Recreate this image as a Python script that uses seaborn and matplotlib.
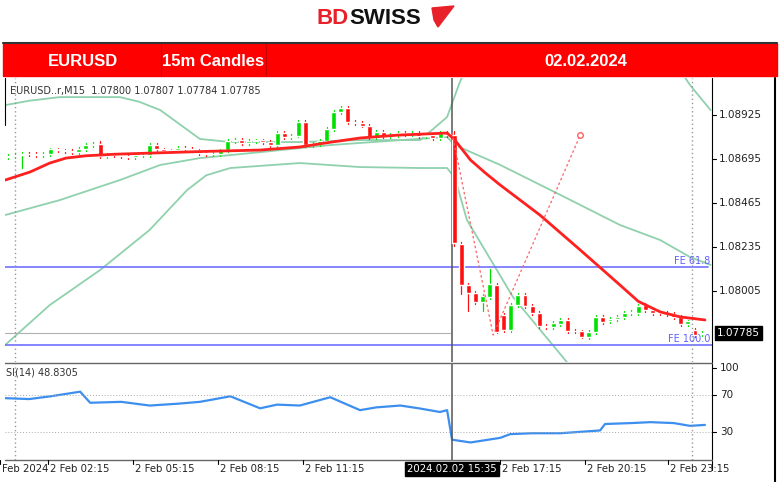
import matplotlib
matplotlib.use("Agg")
import matplotlib.pyplot as plt
import seaborn as sns
import pandas as pd
import numpy as np
from matplotlib.patches import Rectangle, Polygon

sns.set_style("white")
plt.rcParams['font.family'] = ['DejaVu Sans']

# ---- data ----
closes_pre = [1.08712,1.08715,1.08722,1.08720,1.08718,1.08722,1.08745,1.08740,1.08735,1.08732,1.08748,1.08770,1.08775,
              1.08712,1.08718,1.08715,1.08712,1.08705,1.08715,1.08718,
              1.08770,1.08745,1.08735,1.08740,1.08755,1.08748,1.08740,1.08725,1.08720,1.08722,1.08740,
              1.08790,1.08795,1.08780,1.08790,1.08792,1.08785,1.08770,1.08830,1.08812,1.08818,
              1.08890,1.08770,1.08772,1.08790,1.08850,1.08940,1.08960,1.08890,1.08885,1.08870,1.08810,
              1.08835,1.08815,1.08820,1.08830,1.08825,1.08830,1.08815,1.08820,1.08805,1.08830,1.08820]
first_open = 1.08705
opens_post = [1.08820,1.08250,1.08036,1.07994,1.07947,1.07975,1.08035,1.07880,1.07800,1.07930,1.07985,1.07925,
              1.07890,1.07820,1.07818,1.07830,1.07855,1.07795,1.07793,1.07765,1.07790,1.07870,1.07845,1.07860,
              1.07870,1.07890,1.07890,1.07930,1.07905,1.07890,1.07888,1.07885,1.07870,1.07830,1.07800,1.07780]
closes_post = [1.08256,1.08036,1.07994,1.07947,1.07980,1.08040,1.07790,1.07800,1.07930,1.07985,1.07925,1.07890,
               1.07820,1.07818,1.07835,1.07855,1.07795,1.07793,1.07765,1.07790,1.07870,1.07840,1.07860,1.07870,
               1.07890,1.07893,1.07925,1.07905,1.07890,1.07888,1.07885,1.07870,1.07830,1.07845,1.07775,1.07785]
wick_overrides = {2: (None, 1.08650), 13: (1.08790, None), 47: (1.08975, None), 63: (1.08840, 1.08240),
                  64: (None, 1.07990), 65: (None, 1.07900), 67: (None, 1.07900), 68: (1.08120, None),
                  69: (None, 1.07785), 81: (None, 1.07760)}

ma_idx = [-0.4,3.1,5.9,8.2,11,15,20,28,35.6,41.2,45,49.7,55,62,63.1,65.3,67.4,69.5,75.1,80.8,86.4,89,92.1,94.9,98.4]
ma_val = [1.08585,1.08627,1.08674,1.08700,1.08712,1.08720,1.08726,1.08735,1.08742,1.08758,1.08780,1.08805,1.08820,1.08831,1.08794,1.08690,1.08622,1.08559,1.08402,1.08219,1.08036,1.07950,1.07895,1.07869,1.07853]
up_idx = [-0.4,3,7.3,15.8,18.5,21.5,24.5,27.1,31.4,41.2,49.7,58.2,62,63.8,65.3,80.8,94.9,96.3,99.2]
up_val = [1.08977,1.09000,1.09019,1.09019,1.08995,1.08951,1.08870,1.08800,1.08784,1.08784,1.08794,1.08794,1.08915,1.09098,1.09213,1.09422,1.09160,1.09082,1.08951]
lo_idx = [-0.4,5.9,13,20,25.3,28,31.4,41.2,49.7,58.2,62,63.1,64.8,71.3,78.9,80]
lo_val = [1.07722,1.07931,1.08114,1.08324,1.08533,1.08610,1.08648,1.08674,1.08653,1.08648,1.08648,1.08596,1.08376,1.07973,1.07633,1.07580]
mid_idx = [-0.4,7.3,15.8,21.5,27.1,35.6,45.5,55.4,62,63.1,69.5,78,86.4,92.1,96.3,99.2]
mid_val = [1.08402,1.08480,1.08585,1.08664,1.08700,1.08731,1.08768,1.08794,1.08810,1.08768,1.08664,1.08507,1.08350,1.08271,1.08182,1.08141]
fib_idx = [62.7,68.5,80.8]
fib_val = [1.08831,1.07774,1.08820]
fe618, fe100, last_price = 1.08130, 1.07722, 1.07785
rsi_idx = [-0.4,3,6,10.2,11.6,16,20,24,27.1,31.4,35.6,38,41.2,45.5,49.7,52,55.4,58,61,62,62.7,65.3,67,69.5,70.9,74,78,83.6,84.3,88,90.7,94,96.3,98.4]
rsi_val = [67,66,69,74,62,63,59,61,63,69,56,60,59,68,54,57,59,56,52,54,22,19,21,24,28,29,29,32,39,40,41,40,37,38]
price_ticks = [1.08925,1.08695,1.08465,1.08235,1.08005]
rsi_ticks = [100,70,30]
xtick_px = [0,48,133,218,303,452,500,585,668]
xtick_lab = ["Feb 2024","2 Feb 02:15","2 Feb 05:15","2 Feb 08:15","2 Feb 11:15","2024.02.02 15:35","2 Feb 17:15","2 Feb 20:15","2 Feb 23:15"]

opens = [first_open] + closes_pre[:-1] + opens_post
closes = closes_pre + closes_post
n = len(closes)

W, H = 780, 482
fig = plt.figure(figsize=(7.8, 4.82), dpi=100)
def fx(x): return x / W
def fy(y): return 1 - y / H

ax = fig.add_axes([fx(5), fy(362), fx(707), (362-78)/H])
ax2 = fig.add_axes([fx(5), fy(460), fx(707), (460-364)/H])
xlim = (-0.42, 99.4)
for a in (ax, ax2):
    a.set_xlim(*xlim)
    a.set_xticks([]); a.set_yticks([])
    for s in a.spines.values(): s.set_visible(False)
ax.set_ylim(1.07633, 1.09119)
ax2.set_ylim(0, 104)

green = "#8fd1ad"
sns.lineplot(x=up_idx, y=up_val, ax=ax, color=green, lw=1.3)
sns.lineplot(x=lo_idx, y=lo_val, ax=ax, color=green, lw=1.3)
sns.lineplot(x=mid_idx, y=mid_val, ax=ax, color=green, lw=1.3)
for i in range(n):
    o, c = opens[i], closes[i]
    hi = max(o, c) + 0.00010; lo = min(o, c) - 0.00010
    if i in wick_overrides:
        h2, l2 = wick_overrides[i]
        hi = h2 if h2 else hi; lo = l2 if l2 else lo
    col = "#00e000" if c >= o else "#ff1010"
    ax.plot([i, i], [lo, hi], color=col, lw=0.9, zorder=3)
    ax.bar(i, max(abs(c - o), 0.00003), bottom=min(o, c), width=0.7, color=col, zorder=4)
sns.lineplot(x=ma_idx, y=ma_val, ax=ax, color="#ff2020", lw=2, zorder=5)
ax.plot(fib_idx, fib_val, color="#ff6060", lw=0.9, ls=(0, (2, 2)), zorder=5)
ax.plot(fib_idx[-1], fib_val[-1], marker="o", mfc="white", mec="#ff6060", ms=4, zorder=6)
ax.axhline(fe618, color="#7070ff", lw=1.2, xmin=0, xmax=0.995)
ax.axhline(fe100, color="#7070ff", lw=1.2)
ax.axhline(last_price, color="#b0b0b0", lw=0.8, xmax=0.63)
ax.text(99.2, fe618 + 0.00004, "FE 61.8", color="#6060ff", fontsize=7, ha="right", va="bottom")
ax.text(99.2, fe100 + 0.00004, "FE 100.0", color="#6060ff", fontsize=7, ha="right", va="bottom")
ax.text(0.3, 1.0905, "EURUSD..r,M15  1.07800 1.07807 1.07784 1.07785", fontsize=7, color="#333333", va="center")

sns.lineplot(x=rsi_idx, y=rsi_val, ax=ax2, color="#3d8fef", lw=1.6)
for lv in (70, 30):
    ax2.axhline(lv, color="#aaaaaa", lw=0.7, ls=(0, (1, 2)))
ax2.text(-0.3, 95, "SI(14) 48.8305", fontsize=7, color="#333333", va="center")

for a in (ax, ax2):
    a.axvline(1.0, color="#999999", lw=1, ls=(0, (1, 2)))
    a.axvline(96.6, color="#999999", lw=1, ls=(0, (1, 2)))
    a.axvline(62.7, color="#555555", lw=1.1)

fig.add_artist(plt.Line2D([fx(712), fx(712)], [fy(78), fy(470)], color="black", lw=0.8))
fig.add_artist(plt.Line2D([fx(5), fx(712)], [fy(363), fy(363)], color="#666666", lw=1))
fig.add_artist(plt.Line2D([fx(5), fx(712)], [fy(460), fy(460)], color="#666666", lw=1))
fig.add_artist(plt.Line2D([fx(5), fx(5)], [fy(78), fy(125)], color="black", lw=0.8))
fig.add_artist(plt.Line2D([fx(775), fx(775)], [fy(78), fy(482)], color="black", lw=1.5))

ylo, yhi = ax.get_ylim()
def py(p): return 362 - (p - ylo) / (yhi - ylo) * 284
for p in price_ticks:
    y = py(p)
    fig.add_artist(plt.Line2D([fx(712), fx(716)], [fy(y), fy(y)], color="black", lw=0.8))
    fig.text(fx(719), fy(y), f"{p:.5f}", fontsize=7.5, va="center", color="#222222")
y = py(last_price)
fig.text(fx(717), fy(y), f"{last_price:.5f}", fontsize=7.5, va="center", color="white",
         bbox=dict(boxstyle="square,pad=0.2", fc="black", ec="black"))
for r in rsi_ticks:
    y = 460 - r / 104 * 96
    fig.add_artist(plt.Line2D([fx(712), fx(716)], [fy(y), fy(y)], color="black", lw=0.8))
    fig.text(fx(720), fy(y), str(r), fontsize=7.5, va="center", color="#222222")

for px, lab in zip(xtick_px, xtick_lab):
    if lab.startswith("2024"):
        fig.text(fx(px), fy(469), lab, fontsize=7.3, ha="center", va="center", color="white",
                 bbox=dict(boxstyle="square,pad=0.2", fc="black", ec="black"))
    else:
        fig.add_artist(plt.Line2D([fx(px), fx(px)], [fy(460), fy(464)], color="black", lw=0.8))
        fig.text(fx(px + 2), fy(469), lab, fontsize=7.3, ha="left", va="center", color="#222222")

fig.add_artist(Rectangle((fx(3), fy(76)), fx(774), (76-43)/H, color="#ff0000", transform=fig.transFigure))
fig.add_artist(plt.Line2D([fx(3), fx(777)], [fy(43), fy(43)], color="#333333", lw=1.5))
for xd in (161, 266):
    fig.add_artist(plt.Line2D([fx(xd), fx(xd)], [fy(44), fy(76)], color="#cc0000", lw=0.8))
for txt, xc in (("EURUSD", 83), ("15m Candles", 213), ("02.02.2024", 586)):
    fig.text(fx(xc), fy(62), txt, color="white", fontsize=12, fontweight="bold", ha="center", va="center",
             family="Liberation Sans")

fig.text(fx(316), fy(18), "BD", color="#e8202a", fontsize=16, fontweight="bold", va="center", ha="left", family="Liberation Sans")
fig.text(fx(349), fy(18), "SWISS", color="#111111", fontsize=16, fontweight="bold", va="center", ha="left", family="Liberation Sans")
fig.add_artist(Polygon([(fx(432), fy(8)), (fx(454), fy(6)), (fx(438), fy(27)), (fx(434), fy(20))],
                       closed=True, color="#e8202a", transform=fig.transFigure))

fig.savefig("out.png", dpi=100)
